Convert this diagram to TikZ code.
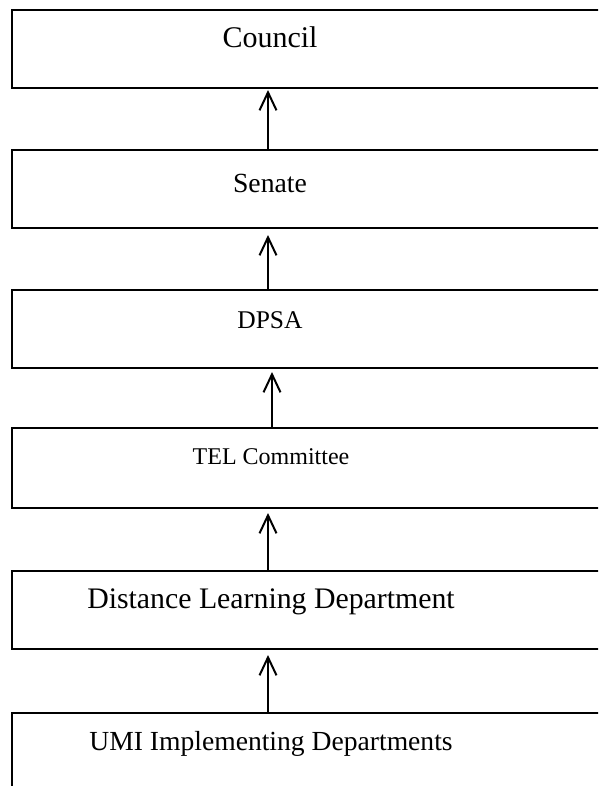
\documentclass[tikz,border=0pt]{standalone}
\usepackage{fontspec}
\setmainfont{Liberation Serif}
\usetikzlibrary{arrows.meta}
\begin{document}
\begin{tikzpicture}[x=1pt,y=-1pt,
  box/.style={draw, line width=1.5pt, anchor=north west, minimum width=640pt, inner sep=0pt, outer sep=0pt},
  lbl/.style={anchor=base, inner sep=0pt},
  arr/.style={line width=2pt, -{Straight Barb[length=18pt,width=17pt,line width=2pt]}}]
\clip (0,0) rectangle (598,786);
\node[box, minimum height=78pt] (council) at (12,10) {};
\node[box, minimum height=78pt] (senate) at (12,150) {};
\node[box, minimum height=78pt] (dpsa) at (12,290) {};
\node[box, minimum height=80pt] (tel) at (12,428) {};
\node[box, minimum height=78pt] (dist) at (12,571) {};
\node[box, minimum height=120pt] (umi) at (12,713) {};
\node[lbl, font=\fontsize{30}{30}\selectfont] (councilT) at (270,48) {Council};
\node[lbl, font=\fontsize{27.7}{28}\selectfont] (senateT) at (270,193) {Senate};
\node[lbl, font=\fontsize{25.5}{26}\selectfont] (dpsaT) at (270,328) {DPSA};
\node[lbl, font=\fontsize{24}{24}\selectfont] (telT) at (271,464) {TEL Committee};
\node[lbl, font=\fontsize{29.8}{30}\selectfont] (distT) at (271,608) {Distance Learning Department};
\node[lbl, font=\fontsize{27.6}{28}\selectfont] (umiT) at (271,750) {UMI Implementing Departments};
\draw[arr, shorten >=2pt] (268,0 |- senate.north) -- (268,0 |- council.south);
\draw[arr, shorten >=7pt] (268,0 |- dpsa.north) -- (268,0 |- senate.south);
\draw[arr, shorten >=4pt] (272,0 |- tel.north) -- (272,0 |- dpsa.south);
\draw[arr, shorten >=5pt] (268,0 |- dist.north) -- (268,0 |- tel.south);
\draw[arr, shorten >=6pt] (268,0 |- umi.north) -- (268,0 |- dist.south);
\end{tikzpicture}
\end{document}
